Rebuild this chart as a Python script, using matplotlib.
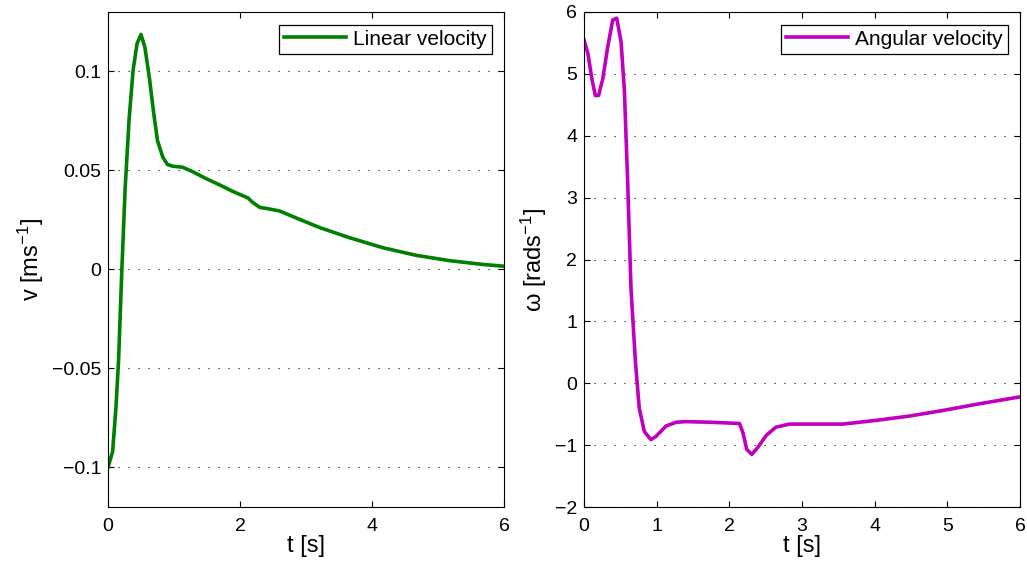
import numpy as np
import matplotlib
matplotlib.use('Agg')
import matplotlib.pyplot as plt

plt.rcParams['font.family'] = ['Liberation Sans', 'DejaVu Sans']
plt.rcParams['mathtext.default'] = 'regular'

# linear velocity
t_lin = [0.0, 0.07, 0.12, 0.16, 0.21, 0.26, 0.32, 0.38, 0.44, 0.50, 0.56, 0.63,
         0.69, 0.75, 0.83, 0.90, 0.98, 1.13, 1.28, 1.49, 1.69, 1.89, 2.12, 2.19,
         2.30, 2.40, 2.60, 2.90, 3.21, 3.66, 4.17, 4.67, 5.18, 5.68, 6.0]
v_lin = [-0.100, -0.092, -0.070, -0.046, 0.0, 0.041, 0.076, 0.1005, 0.114, 0.1187,
         0.112, 0.096, 0.0795, 0.065, 0.0567, 0.053, 0.0521, 0.0516, 0.0494, 0.0458,
         0.0427, 0.0394, 0.0361, 0.0339, 0.0313, 0.0308, 0.0295, 0.0253, 0.0211,
         0.016, 0.0109, 0.0071, 0.0044, 0.0025, 0.0016]

# angular velocity
t_ang = [0.0, 0.055, 0.11, 0.156, 0.20, 0.257, 0.326, 0.395, 0.45, 0.51, 0.556,
         0.60, 0.647, 0.707, 0.76, 0.83, 0.92, 0.99, 1.13, 1.27, 1.40, 1.73, 2.14,
         2.19, 2.24, 2.31, 2.39, 2.51, 2.64, 2.83, 3.10, 3.56, 4.02, 4.48, 4.94,
         5.40, 6.0]
w_ang = [5.55, 5.32, 4.91, 4.65, 4.65, 4.91, 5.43, 5.87, 5.9, 5.52, 4.73, 3.28,
         1.52, 0.36, -0.4, -0.78, -0.91, -0.86, -0.69, -0.63, -0.62, -0.63, -0.65,
         -0.81, -1.07, -1.15, -1.04, -0.84, -0.71, -0.66, -0.66, -0.66, -0.60,
         -0.53, -0.44, -0.34, -0.22]

fig = plt.figure(figsize=(10.27, 5.66), dpi=100)
ax1 = fig.add_axes([108/1027, 1-507/566, (504-108)/1027, (507-12)/566])
ax2 = fig.add_axes([584/1027, 1-507/566, (1020-584)/1027, (507-12)/566])

ax1.plot(t_lin, v_lin, color='#008000', lw=2.6, label='Linear velocity')
ax2.plot(t_ang, w_ang, color='#bf00bf', lw=2.6, label='Angular velocity')

ax1.set_xlim(0, 6)
ax1.set_ylim(-0.12, 0.13)
ax1.set_xticks([0, 2, 4, 6])
ax1.set_yticks([-0.1, -0.05, 0, 0.05, 0.1])
ax1.set_yticklabels(['\u22120.1', '\u22120.05', '0', '0.05', '0.1'])
ax1.set_ylabel('v [ms$^{-1}$]', fontsize=17)

ax2.set_xlim(0, 6)
ax2.set_ylim(-2, 6)
ax2.set_xticks(range(0, 7))
ax2.set_yticks(range(-2, 7))
ax2.set_yticklabels(['\u22122', '\u22121', '0', '1', '2', '3', '4', '5', '6'])
ax2.set_ylabel('\u03c9 [rads$^{-1}$]', fontsize=17)

for ax in (ax1, ax2):
    ax.set_xlabel('t [s]', fontsize=17, labelpad=0)
    ax.tick_params(direction='in', top=True, right=True, length=4.5,
                   labelsize=14, width=0.8)
    ax.tick_params(axis='x', pad=8)
    ax.tick_params(axis='y', pad=5)
    ax.yaxis.grid(True, color='black', linestyle=(0, (1, 8)), lw=0.8)
    for s in ax.spines.values():
        s.set_linewidth(0.8)
    leg = ax.legend(loc='upper right', fontsize=15, fancybox=False,
                    edgecolor='black', framealpha=1, handlelength=3.0,
                    handletextpad=0.3, borderpad=0.25, borderaxespad=0.6)
    leg.get_frame().set_linewidth(0.9)

fig.savefig('out.png', dpi=100)
